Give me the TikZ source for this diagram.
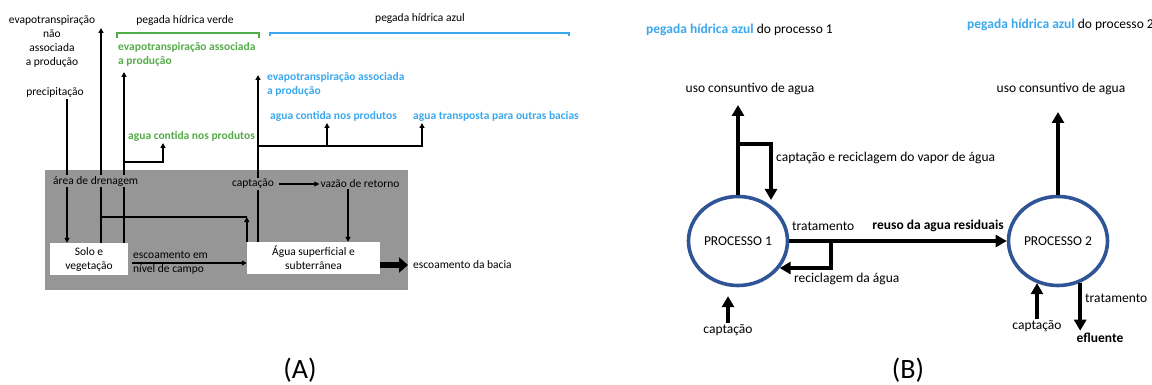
\documentclass[tikz,border=0pt]{standalone}
\usepackage{fontspec}
\setmainfont{Carlito}
\usetikzlibrary{arrows.meta,shapes.geometric,positioning,calc}
\definecolor{verde}{RGB}{84,172,72}
\definecolor{azul}{RGB}{58,168,238}
\definecolor{fundo}{RGB}{150,150,150}
\definecolor{anel}{RGB}{47,85,151}

\tikzset{
  txtA/.style={inner sep=1pt, font=\fontsize{11.5}{14}\selectfont},
  negA/.style={inner sep=1pt, font=\fontsize{11.5}{14}\selectfont\bfseries},
  txtB/.style={inner sep=1pt, font=\fontsize{13.5}{16}\selectfont},
  negB/.style={inner sep=1pt, font=\fontsize{13.5}{16}\selectfont\bfseries},
  fina/.style={line width=1.4pt, -{Triangle[length=5pt,width=5pt]}},
  grossa/.style={line width=3.7pt, -{Triangle[length=11pt,width=12pt]}},
  caixa/.style={fill=white, txtA, align=center, inner sep=0pt},
  processo/.style={ellipse, draw=anel, line width=3.6pt, minimum width=99pt, minimum height=89pt, txtB},
  rotulo/.style={font=\fontsize{28}{32}\selectfont}
}

\begin{document}
\begin{tikzpicture}[x=1pt,y=-1pt]
\useasboundingbox (0,0) rectangle (1152,385);
% (A) bacia
\node (bacia) [fill=fundo, minimum width=363pt, minimum height=120pt, inner sep=0pt] at (226.5,230) {};
\node (solo) [caixa, minimum width=78pt, minimum height=32pt] at (89,259) {Solo e\\vegetação};
\node (agua) [caixa, minimum width=133pt, minimum height=32pt] at (313.5,258) {Água superficial e\\subterrânea};
\node (naoassoc) [txtA, align=center] at (52,42) {evapotranspiração\\não\\associada\\a produção};
\node (precip) [txtA] at (55,93) {precipitação};
\node (pegverde) [txtA] at (185,20) {pegada hídrica verde};
\node (pegazul) [txtA] at (420,18) {pegada hídrica azul};
\node (evapV) [negA, anchor=west, align=left, text=verde] at (117,54) {evapotranspiração associada\\a produção};
\node (contV) [negA, anchor=west, text=verde] at (127,136) {agua contida nos produtos};
\node (evapA) [negA, anchor=west, align=left, text=azul] at (266,84) {evapotranspiração associada\\a produção};
\node (contA) [negA, anchor=west, text=azul] at (269,116) {agua contida nos produtos};
\node (transp) [negA, anchor=west, text=azul] at (412,116) {agua transposta para outras bacias};
\node (escCampo) [txtA, anchor=west, align=left] at (132,263) {escoamento em\\nível de campo};
\node (escBacia) [txtA, anchor=west] at (412,265) {escoamento da bacia};
\node (vazao) [txtA] at (360,184) {vazão de retorno};

\coordinate (tNao) at (101,28);
\coordinate (tVerde) at (124,72);
\coordinate (tContV) at (163,143);
\coordinate (tAzul) at (258,75);
\coordinate (tContA) at (327,123);
\coordinate (tTransp) at (422,123);
\coordinate (campo) at (132,263);

\draw[fina] ([xshift=12pt]precip.south) -- ([xshift=12pt]precip.south |- solo.north);
\draw[fina] (tNao |- solo.north) -- (tNao);
\draw[fina] (tVerde |- solo.north) -- (tVerde);
\draw[fina] (tVerde |- 0,162) -| (tContV);
\draw[line width=1.4pt] (tNao |- 0,217) -- (agua.north west |- 0,217);
\draw[fina] (agua.north west) -- (agua.north west |- 0,217);
\draw[fina] (tAzul |- agua.north) -- (tAzul);
\draw[fina] (tAzul |- 0,146) -| (tTransp);
\draw[fina] (tContA |- 0,146) -- (tContA);
\draw[fina] ([xshift=-12pt]vazao.south) -- ([xshift=-12pt]vazao.south |- agua.north);
\draw[fina] (campo) -- (campo -| agua.west);
\draw[line width=6pt, -{Triangle[length=9pt,width=15pt]}] (agua.east |- escBacia.west) -- ([xshift=-4pt]escBacia.west);
\draw[verde, line width=1.5pt] (117,38) -- (117,33) -- (259,33) -- (259,38);
\draw[azul, line width=1.5pt] (270,36) -- (270,33) -- (569,33) -- (569,36);

\node (captA) [txtA, fill=fundo] at (253,184) {captação};
\node (drenagem) [txtA, fill=fundo, anchor=west] at (52,181) {área de drenagem};
\draw[fina] ([xshift=4pt]captA.east) -- (vazao.west);

% (B) processos
\node (titulo1) [txtB, anchor=west] at (645,30) {\textcolor{azul}{\bfseries pegada hídrica azul} do processo 1};
\node (titulo2) [txtB, anchor=west] at (966,25) {\textcolor{azul}{\bfseries pegada hídrica azul} do processo 2};
\node (uso1) [txtB] at (750,89) {uso consuntivo de agua};
\node (uso2) [txtB] at (1061,89) {uso consuntivo de agua};
\node (p1) [processo] at (738,241) {PROCESSO 1};
\node (p2) [processo] at (1058,241) {PROCESSO 2};
\node (vapor) [txtB, anchor=west] at (775,158) {captação e reciclagem do vapor de água};
\node (trat1) [txtB, anchor=west] at (791,226) {tratamento};
\node (reuso) [negB, anchor=east] at (1005,226) {reuso da agua residuais};
\node (recicl) [txtB, anchor=west] at (793,279) {reciclagem da água};
\node (cap1) [txtB] at (728,330) {captação};
\node (cap2) [txtB] at (1037,326) {captação};
\node (trat2) [txtB, anchor=west] at (1084,298) {tratamento};
\node (eflu) [negB] at (1100,338) {efluente};

\coordinate (tUso1) at (738,105);
\coordinate (tUso2) at (1058,112);
\coordinate (rv) at (771,144);
\coordinate (rvb) at (771,200);
\coordinate (rc) at (831,240);

\draw[grossa] (p1.north) -- (tUso1);
\draw[grossa] (tUso1 |- rv) -| (rvb);
\draw[grossa] (p2.north) -- (tUso2);
\draw[grossa] (p1.east) -- (p2.west);
\draw[grossa] (rc) |- (p1.-33);
\draw[grossa] (cap1.north) -- ++(0,-27);
\draw[grossa] (cap2.north) -- ++(0,-36);
\draw[grossa] (p2.-62) -- ++(0,48);

\node (rotA) [rotulo] at (300,370) {(A)};
\node (rotB) [rotulo] at (908,370) {(B)};
\end{tikzpicture}
\end{document}
